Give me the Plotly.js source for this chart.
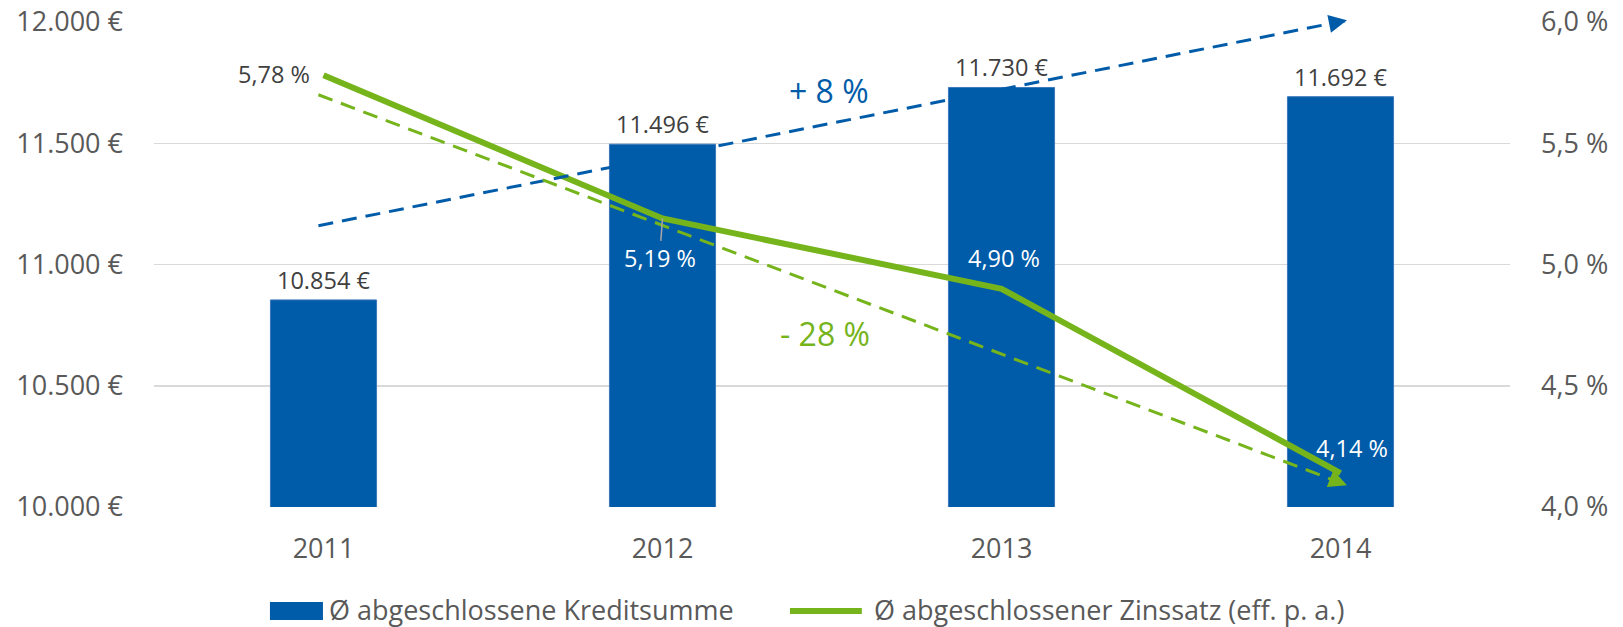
<!DOCTYPE html>
<html>
<head>
<meta charset="utf-8">
<script src="https://cdn.plot.ly/plotly-3.0.1.min.js"></script>
<style>
  html, body { margin: 0; padding: 0; background: #ffffff; }
  #chart { width: 1623px; height: 627px; }
</style>
</head>
<body>
<div id="chart"></div>
<script>
// ---- data ----
const years = ['2011', '2012', '2013', '2014'];
const loanAmount = [10854, 11496, 11730, 11692];      // Ø abgeschlossene Kreditsumme (€)
const interestRate = [5.78, 5.19, 4.90, 4.14];        // Ø abgeschlossener Zinssatz (%)
const amountTrend = [11160, 12007];                   // blue trend arrow, start/end (€)
const rateTrend = [5.70, 4.09];                       // green trend arrow, start/end (%)
const amountChange = '+ 8 %';
const rateChange = '- 28 %';
const seriesNames = ['Ø abgeschlossene Kreditsumme', 'Ø abgeschlossener Zinssatz (eff. p. a.)'];

// ---- style ----
const BLUE = '#005CA9';
const GREEN = '#76B41C';
const AXIS_TXT = '#595959';
const LABEL_TXT = '#404040';
const FONT = 'Open Sans, Noto Sans, sans-serif';

const Y_RANGE = [10000, 12000];
const Y2_RANGE = [4, 6];

const xIdx = years.map((_, i) => i);
const fmtEuro = v => String(v).replace(/\B(?=(\d{3})+(?!\d))/g, '.') + ' €';
const fmtPct = v => v.toFixed(2).replace('.', ',') + ' %';

const traces = [
  {
    type: 'bar', x: xIdx, y: loanAmount, name: seriesNames[0],
    marker: { color: BLUE, line: { color: '#3D78BA', width: 1 } },
    xaxis: 'x', yaxis: 'y', hoverinfo: 'skip', showlegend: false
  },
  {
    type: 'scatter', mode: 'lines', x: xIdx, y: interestRate, name: seriesNames[1],
    line: { color: GREEN, width: 6 },
    xaxis: 'x', yaxis: 'y2', hoverinfo: 'skip', showlegend: false
  }
];

const annotations = [];
// bar value labels
loanAmount.forEach((v, i) => {
  annotations.push({
    x: xIdx[i], y: v, xref: 'x', yref: 'y', text: fmtEuro(v), showarrow: false,
    yanchor: 'middle', yshift: 20, font: { family: FONT, size: 23.5, color: LABEL_TXT }
  });
});
// rate labels
const rateLabelStyle = [
  { xanchor: 'right', xshift: -12, yshift: 1, color: LABEL_TXT },
  null,
  { xanchor: 'center', xshift: 2, yshift: 31, color: '#FFFFFF' },
  { xanchor: 'center', xshift: 11, yshift: 25, color: '#FFFFFF' }
];
interestRate.forEach((v, i) => {
  const s = rateLabelStyle[i];
  if (s) {
    annotations.push({
      x: xIdx[i], y: v, xref: 'x', yref: 'y2', text: fmtPct(v), showarrow: false,
      xanchor: s.xanchor, yanchor: 'middle', xshift: s.xshift, yshift: s.yshift,
      font: { family: FONT, size: 23.5, color: s.color }
    });
  } else {
    annotations.push({
      x: xIdx[i], y: v, xref: 'x', yref: 'y2', text: fmtPct(v), showarrow: true,
      arrowhead: 0, arrowwidth: 1.5, arrowcolor: '#A6A6A6', ax: -3, ay: 40, standoff: 0,
      font: { family: FONT, size: 23.5, color: '#FFFFFF' }
    });
  }
});
// trend arrowheads
const trendX = [-0.015, 3.019];
annotations.push({
  x: trendX[1], y: (amountTrend[1] - Y_RANGE[0]) / (Y_RANGE[1] - Y_RANGE[0]),
  xref: 'x', yref: 'paper', text: '', showarrow: true,
  arrowhead: 2, arrowsize: 1.45, arrowwidth: 2.5, arrowcolor: BLUE, ax: -12, ay: 2.4
});
annotations.push({
  x: trendX[1], y: rateTrend[1], xref: 'x', yref: 'y2', text: '', showarrow: true,
  arrowhead: 2, arrowsize: 1.45, arrowwidth: 2.5, arrowcolor: GREEN, ax: -11, ay: -4.3
});
// change labels
annotations.push({
  x: 1.49, y: 11718, xref: 'x', yref: 'y', text: amountChange, showarrow: false,
  font: { family: FONT, size: 32, color: BLUE }
});
annotations.push({
  x: 1.48, y: 10716, xref: 'x', yref: 'y', text: rateChange, showarrow: false,
  font: { family: FONT, size: 32, color: GREEN }
});
// custom legend texts
annotations.push({
  x: 0.128, y: -0.211, xref: 'paper', yref: 'paper', xanchor: 'left', yanchor: 'middle',
  text: seriesNames[0], showarrow: false, borderpad: 0, font: { family: FONT, size: 27, color: AXIS_TXT }
});
annotations.push({
  x: 0.530, y: -0.211, xref: 'paper', yref: 'paper', xanchor: 'left', yanchor: 'middle',
  text: seriesNames[1], showarrow: false, borderpad: 0, font: { family: FONT, size: 27, color: AXIS_TXT }
});

const shapes = [
  // blue trend (dashed)
  { type: 'line', xref: 'x', yref: 'y', x0: trendX[0], y0: amountTrend[0], x1: trendX[1], y1: amountTrend[1],
    line: { color: BLUE, width: 3, dash: '15px,9px' }, layer: 'above' },
  // green trend (dashed)
  { type: 'line', xref: 'x', yref: 'y2', x0: trendX[0], y0: rateTrend[0], x1: trendX[1], y1: rateTrend[1],
    line: { color: GREEN, width: 3, dash: '15px,9px' }, layer: 'above' },
  // legend keys
  { type: 'rect', xref: 'paper', yref: 'paper', x0: 0.0855, x1: 0.1246, y0: -0.233, y1: -0.196,
    fillcolor: BLUE, line: { width: 0 } },
  { type: 'line', xref: 'paper', yref: 'paper', x0: 0.469, x1: 0.522, y0: -0.2144, y1: -0.2144,
    line: { color: GREEN, width: 6 } }
];

const layout = {
  width: 1623, height: 627,
  margin: { l: 154, r: 113, t: 22, b: 120, pad: 0 },
  paper_bgcolor: '#ffffff', plot_bgcolor: '#ffffff',
  separators: ',.',
  font: { family: FONT, color: AXIS_TXT },
  showlegend: false,
  bargap: 0.687,
  hovermode: false,
  xaxis: {
    type: 'linear', range: [-0.5, 3.5], tickvals: xIdx, ticktext: years,
    showgrid: false, showline: false, zeroline: false, ticks: '',
    tickfont: { family: FONT, size: 27, color: AXIS_TXT }, ticklabelstandoff: 23
  },
  yaxis: {
    range: Y_RANGE, dtick: 500, tick0: 10000, tickformat: ',.0f', ticksuffix: ' €',
    showgrid: true, gridcolor: '#D9D9D9', gridwidth: 1.5, zeroline: false, showline: false, ticks: '',
    tickfont: { family: FONT, size: 27, color: AXIS_TXT }, ticklabelstandoff: 30
  },
  yaxis2: {
    overlaying: 'y', side: 'right', range: Y2_RANGE, dtick: 0.5, tick0: 4, tickformat: '.1f', ticksuffix: ' %',
    showgrid: false, zeroline: false, showline: false, ticks: '',
    tickfont: { family: FONT, size: 27, color: AXIS_TXT }, ticklabelstandoff: 30
  },
  annotations: annotations,
  shapes: shapes
};

Plotly.newPlot('chart', traces, layout, { displayModeBar: false, staticPlot: true });
</script>
</body>
</html>
